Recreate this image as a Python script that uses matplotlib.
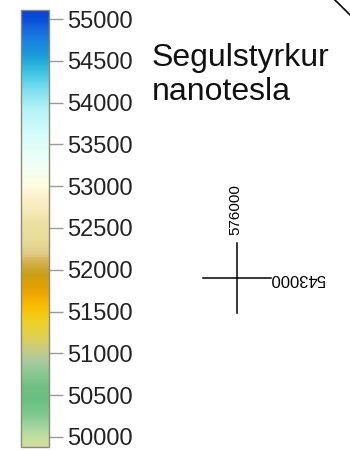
import matplotlib
matplotlib.use('Agg')
import matplotlib.pyplot as plt
from matplotlib.colors import LinearSegmentedColormap, Normalize
from matplotlib.colorbar import ColorbarBase
from matplotlib.lines import Line2D

plt.rcParams['font.family'] = ['Liberation Sans', 'DejaVu Sans']

# colour stops of the legend (nanotesla -> colour)
stop_values = [49880, 49950, 50100, 50250, 50450, 50600, 50750, 50900, 51050, 51200,
               51400, 51550, 51700, 51800, 51950, 52100, 52200, 52350, 52550, 52700,
               52850, 53000, 53250, 53600, 53900, 54150, 54350, 54550, 54800, 55000, 55110]
stop_colors = ['#d4dc9c', '#c8e0a0', '#a8d8a0', '#80c890', '#68c080', '#70c080', '#88c890',
               '#a8c8a0', '#c8cc80', '#e0d050', '#f0d020', '#f8c000', '#f0a800', '#e0a000',
               '#c8a018', '#d4b050', '#e0cc88', '#e8dc98', '#ece0a0', '#f8e8b8', '#fcf0c8',
               '#fffce0', '#f0fff4', '#d8fcfc', '#b8f4f8', '#80e0f0', '#40c8e0', '#1aa0d8',
               '#1a78e0', '#0a50d8', '#0840d0']
tick_values = [50000, 50500, 51000, 51500, 52000, 52500, 53000, 53500, 54000, 54500, 55000]

title_lines = ['Segulstyrkur', 'nanotesla']
coord_north = '576000'
coord_east = '543000'

vmin, vmax = stop_values[0], stop_values[-1]
pos = [(v - vmin) / (vmax - vmin) for v in stop_values]
cmap = LinearSegmentedColormap.from_list('segull', list(zip(pos, stop_colors)), N=512)

fig = plt.figure(figsize=(3.5, 4.5), dpi=100)

# Colour bar
cax = fig.add_axes([0.061, 0.007, 0.078, 0.971])
cb = ColorbarBase(cax, cmap=cmap, norm=Normalize(vmin, vmax), orientation='vertical')
cb.set_ticks(tick_values)
cb.set_ticklabels([str(t) for t in tick_values])
cb.outline.set_edgecolor('#8a8a7a')
cb.outline.set_linewidth(1.0)
cax.tick_params(axis='y', length=10, width=1, color='#999999', pad=3.5,
                labelsize=17, labelcolor='#222222')

# Title
fig.text(0.434, 0.778, '\n'.join(title_lines), fontsize=23, color='#111111',
         ha='left', va='baseline', linespacing=1.15)

# Coordinate cross
fig.add_artist(Line2D([0.676, 0.676], [0.305, 0.46], color='black', lw=1.1))
fig.add_artist(Line2D([0.58, 0.775], [0.382, 0.382], color='black', lw=1.1))
fig.text(0.673, 0.534, coord_north, rotation=90, fontsize=11, ha='center', va='center')
fig.text(0.849, 0.382, coord_east, rotation=180, fontsize=12, ha='center', va='center')

# corner line
fig.add_artist(Line2D([0.957, 1.0], [1.0, 0.967], color='black', lw=1.2))

plt.savefig('out.png', dpi=100)
